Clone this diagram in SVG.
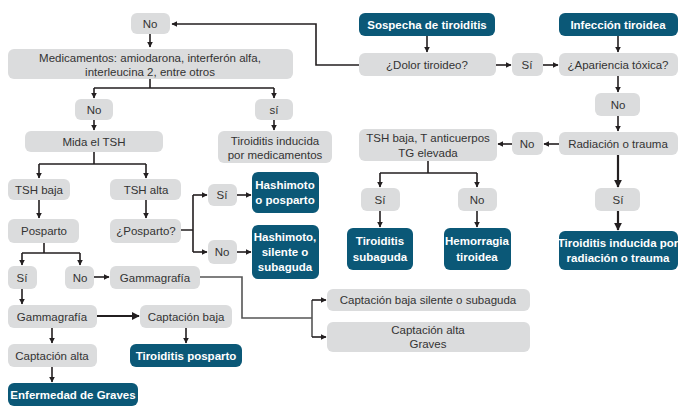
<svg xmlns="http://www.w3.org/2000/svg" width="689" height="414" viewBox="0 0 689 414">
<defs>
<marker id="a" viewBox="0 0 10 10" refX="9" refY="5" markerWidth="3.6" markerHeight="3.6" orient="auto"><path d="M0,0L10,5L0,10z" fill="#231f20"/></marker>
<style>
.g{fill:#dbdcdd}.d{fill:#0b5877}
text{font-family:"Liberation Sans",Arial,sans-serif;font-size:11.5px;fill:#333;text-anchor:middle}
.w{fill:#fff;font-weight:bold;font-size:11.5px}
.c path{fill:none;stroke:#231f20;stroke-width:1.6}
.c path.m{marker-end:url(#a)}
</style>
</defs>
<rect width="689" height="414" fill="#fff"/>
<g class="c">
<path class="m" d="M150,34V47"/>
<path d="M150,79V88M94,88H274"/><path class="m" d="M94,88V98"/><path class="m" d="M274,88V98"/>
<path class="m" d="M94,120V130"/><path class="m" d="M274,120V130"/>
<path d="M94,152V164M39,164H146"/><path class="m" d="M39,164V178"/><path class="m" d="M146,164V178"/>
<path class="m" d="M39,200V218"/><path class="m" d="M146,200V218"/>
<path d="M181,230H193M193,195V252"/><path class="m" d="M193,195H207"/><path class="m" d="M193,252H207"/>
<path class="m" d="M237,195H251"/><path class="m" d="M237,252H251"/>
<path d="M44,243V253M22,253H80"/><path class="m" d="M22,253V265"/><path class="m" d="M80,253V265"/>
<path class="m" d="M94,277H109"/>
<path class="m" d="M22,289V304"/>
<path class="m" d="M97,316H139" style="stroke-width:2.2"/>
<path class="m" d="M52,328V343"/><path class="m" d="M186,328V343"/><path class="m" d="M52,367V382"/>
<path d="M200,277H242V318H312M312,300V337" style="stroke:#555"/><path class="m" d="M312,300H326"/><path class="m" d="M312,337H326"/>
<path class="m" d="M359,65H316V24H172"/>
<path class="m" d="M427,36V52"/><path class="m" d="M618,36V52"/>
<path class="m" d="M496,65H511"/><path class="m" d="M543,65H558"/>
<path class="m" d="M618,76V92"/><path class="m" d="M618,116V131"/>
<path class="m" d="M559,144H544"/><path class="m" d="M512,144H498"/>
<path class="m" d="M618,155V187" style="stroke-width:2.2"/><path class="m" d="M618,211V230" style="stroke-width:2.2"/>
<path d="M428,161V173M380,173H477"/><path class="m" d="M380,173V187"/><path class="m" d="M477,173V187"/>
<path class="m" d="M380,211V227"/><path class="m" d="M477,211V227"/>
</g>
<g id="n1"><rect class="g" x="131" y="13" width="39" height="21" rx="6"/><text x="150" y="28">No</text></g>
<g id="n2"><rect class="g" x="8" y="49" width="285" height="30" rx="6"/><text x="150" y="62">Medicamentos: amiodarona, interferón alfa,</text><text x="150" y="76">interleucina 2, entre otros</text></g>
<g id="n3"><rect class="g" x="75" y="99" width="38" height="21" rx="6"/><text x="94" y="114">No</text></g>
<g id="n4"><rect class="g" x="255" y="99" width="38" height="21" rx="6"/><text x="274" y="114">sí</text></g>
<g id="n5"><rect class="g" x="25" y="131" width="138" height="21" rx="6"/><text x="94" y="146">Mida el TSH</text></g>
<g id="n6"><rect class="g" x="218" y="131" width="114" height="32" rx="6"/><text x="275" y="145">Tiroiditis inducida</text><text x="275" y="159">por medicamentos</text></g>
<g id="n7"><rect class="g" x="8" y="179" width="62" height="21" rx="6"/><text x="39" y="194">TSH baja</text></g>
<g id="n8"><rect class="g" x="110" y="179" width="71" height="21" rx="6"/><text x="146" y="194">TSH alta</text></g>
<g id="n9"><rect class="g" x="208" y="184" width="29" height="22" rx="6"/><text x="222" y="199">Sí</text></g>
<g id="n10"><rect class="d" x="252" y="172" width="67" height="41" rx="6"/><text class="w" x="285" y="189">Hashimoto</text><text class="w" x="285" y="204">o posparto</text></g>
<g id="n11"><rect class="g" x="8" y="219" width="71" height="24" rx="6"/><text x="44" y="235">Posparto</text></g>
<g id="n12"><rect class="g" x="110" y="219" width="71" height="24" rx="6"/><text x="146" y="235">¿Posparto?</text></g>
<g id="n13"><rect class="g" x="208" y="240" width="29" height="24" rx="6"/><text x="222" y="256">No</text></g>
<g id="n14"><rect class="d" x="252" y="225" width="67" height="54" rx="6"/><text class="w" x="285" y="241">Hashimoto,</text><text class="w" x="285" y="256">silente o</text><text class="w" x="285" y="271">subaguda</text></g>
<g id="n15"><rect class="g" x="8" y="266" width="29" height="23" rx="6"/><text x="22" y="282">Sí</text></g>
<g id="n16"><rect class="g" x="65" y="266" width="29" height="23" rx="6"/><text x="80" y="282">No</text></g>
<g id="n17"><rect class="g" x="110" y="266" width="90" height="23" rx="6"/><text x="155" y="282">Gammagrafía</text></g>
<g id="n18"><rect class="g" x="8" y="305" width="89" height="23" rx="6"/><text x="52" y="321">Gammagrafía</text></g>
<g id="n19"><rect class="g" x="140" y="305" width="92" height="23" rx="6"/><text x="186" y="321">Captación baja</text></g>
<g id="n20"><rect class="g" x="8" y="344" width="89" height="23" rx="6"/><text x="52" y="360">Captación alta</text></g>
<g id="n21"><rect class="d" x="130" y="344" width="112" height="23" rx="6"/><text class="w" x="186" y="360">Tiroiditis posparto</text></g>
<g id="n22"><rect class="d" x="8" y="383" width="130" height="23" rx="6"/><text class="w" x="73" y="399">Enfermedad de Graves</text></g>
<g id="n23"><rect class="g" x="327" y="289" width="203" height="22" rx="6"/><text x="428" y="304">Captación baja silente o subaguda</text></g>
<g id="n24"><rect class="g" x="327" y="322" width="203" height="30" rx="6"/><text x="428" y="334">Captación alta</text><text x="428" y="348">Graves</text></g>
<g id="n25"><rect class="d" x="359" y="13" width="136" height="23" rx="6"/><text class="w" x="427" y="29">Sospecha de tiroiditis</text></g>
<g id="n26"><rect class="d" x="559" y="13" width="119" height="23" rx="6"/><text class="w" x="618" y="29">Infección tiroidea</text></g>
<g id="n27"><rect class="g" x="359" y="53" width="137" height="23" rx="6"/><text x="427" y="69">¿Dolor tiroideo?</text></g>
<g id="n28"><rect class="g" x="512" y="53" width="31" height="23" rx="6"/><text x="527" y="69">Sí</text></g>
<g id="n29"><rect class="g" x="559" y="53" width="119" height="23" rx="6"/><text x="618" y="69">¿Apariencia tóxica?</text></g>
<g id="n30"><rect class="g" x="595" y="93" width="45" height="23" rx="6"/><text x="618" y="109">No</text></g>
<g id="n31"><rect class="g" x="559" y="132" width="119" height="23" rx="6"/><text x="618" y="148">Radiación o trauma</text></g>
<g id="n32"><rect class="g" x="512" y="132" width="31" height="23" rx="6"/><text x="527" y="148">No</text></g>
<g id="n33"><rect class="g" x="359" y="129" width="138" height="32" rx="6"/><text x="428" y="142">TSH baja, T anticuerpos</text><text x="428" y="157">TG elevada</text></g>
<g id="n34"><rect class="g" x="361" y="188" width="39" height="23" rx="6"/><text x="380" y="204">Sí</text></g>
<g id="n35"><rect class="g" x="458" y="188" width="39" height="23" rx="6"/><text x="477" y="204">No</text></g>
<g id="n36"><rect class="g" x="595" y="188" width="45" height="23" rx="6"/><text x="618" y="204">Sí</text></g>
<g id="n37"><rect class="d" x="347" y="228" width="66" height="42" rx="6"/><text class="w" x="380" y="245">Tiroiditis</text><text class="w" x="380" y="261">subaguda</text></g>
<g id="n38"><rect class="d" x="444" y="228" width="67" height="42" rx="6"/><text class="w" x="477" y="245">Hemorragia</text><text class="w" x="477" y="261">tiroidea</text></g>
<g id="n39"><rect class="d" x="559" y="231" width="119" height="39" rx="6"/><text class="w" x="618" y="247">Tiroiditis inducida por</text><text class="w" x="618" y="262">radiación o trauma</text></g>
</svg>
